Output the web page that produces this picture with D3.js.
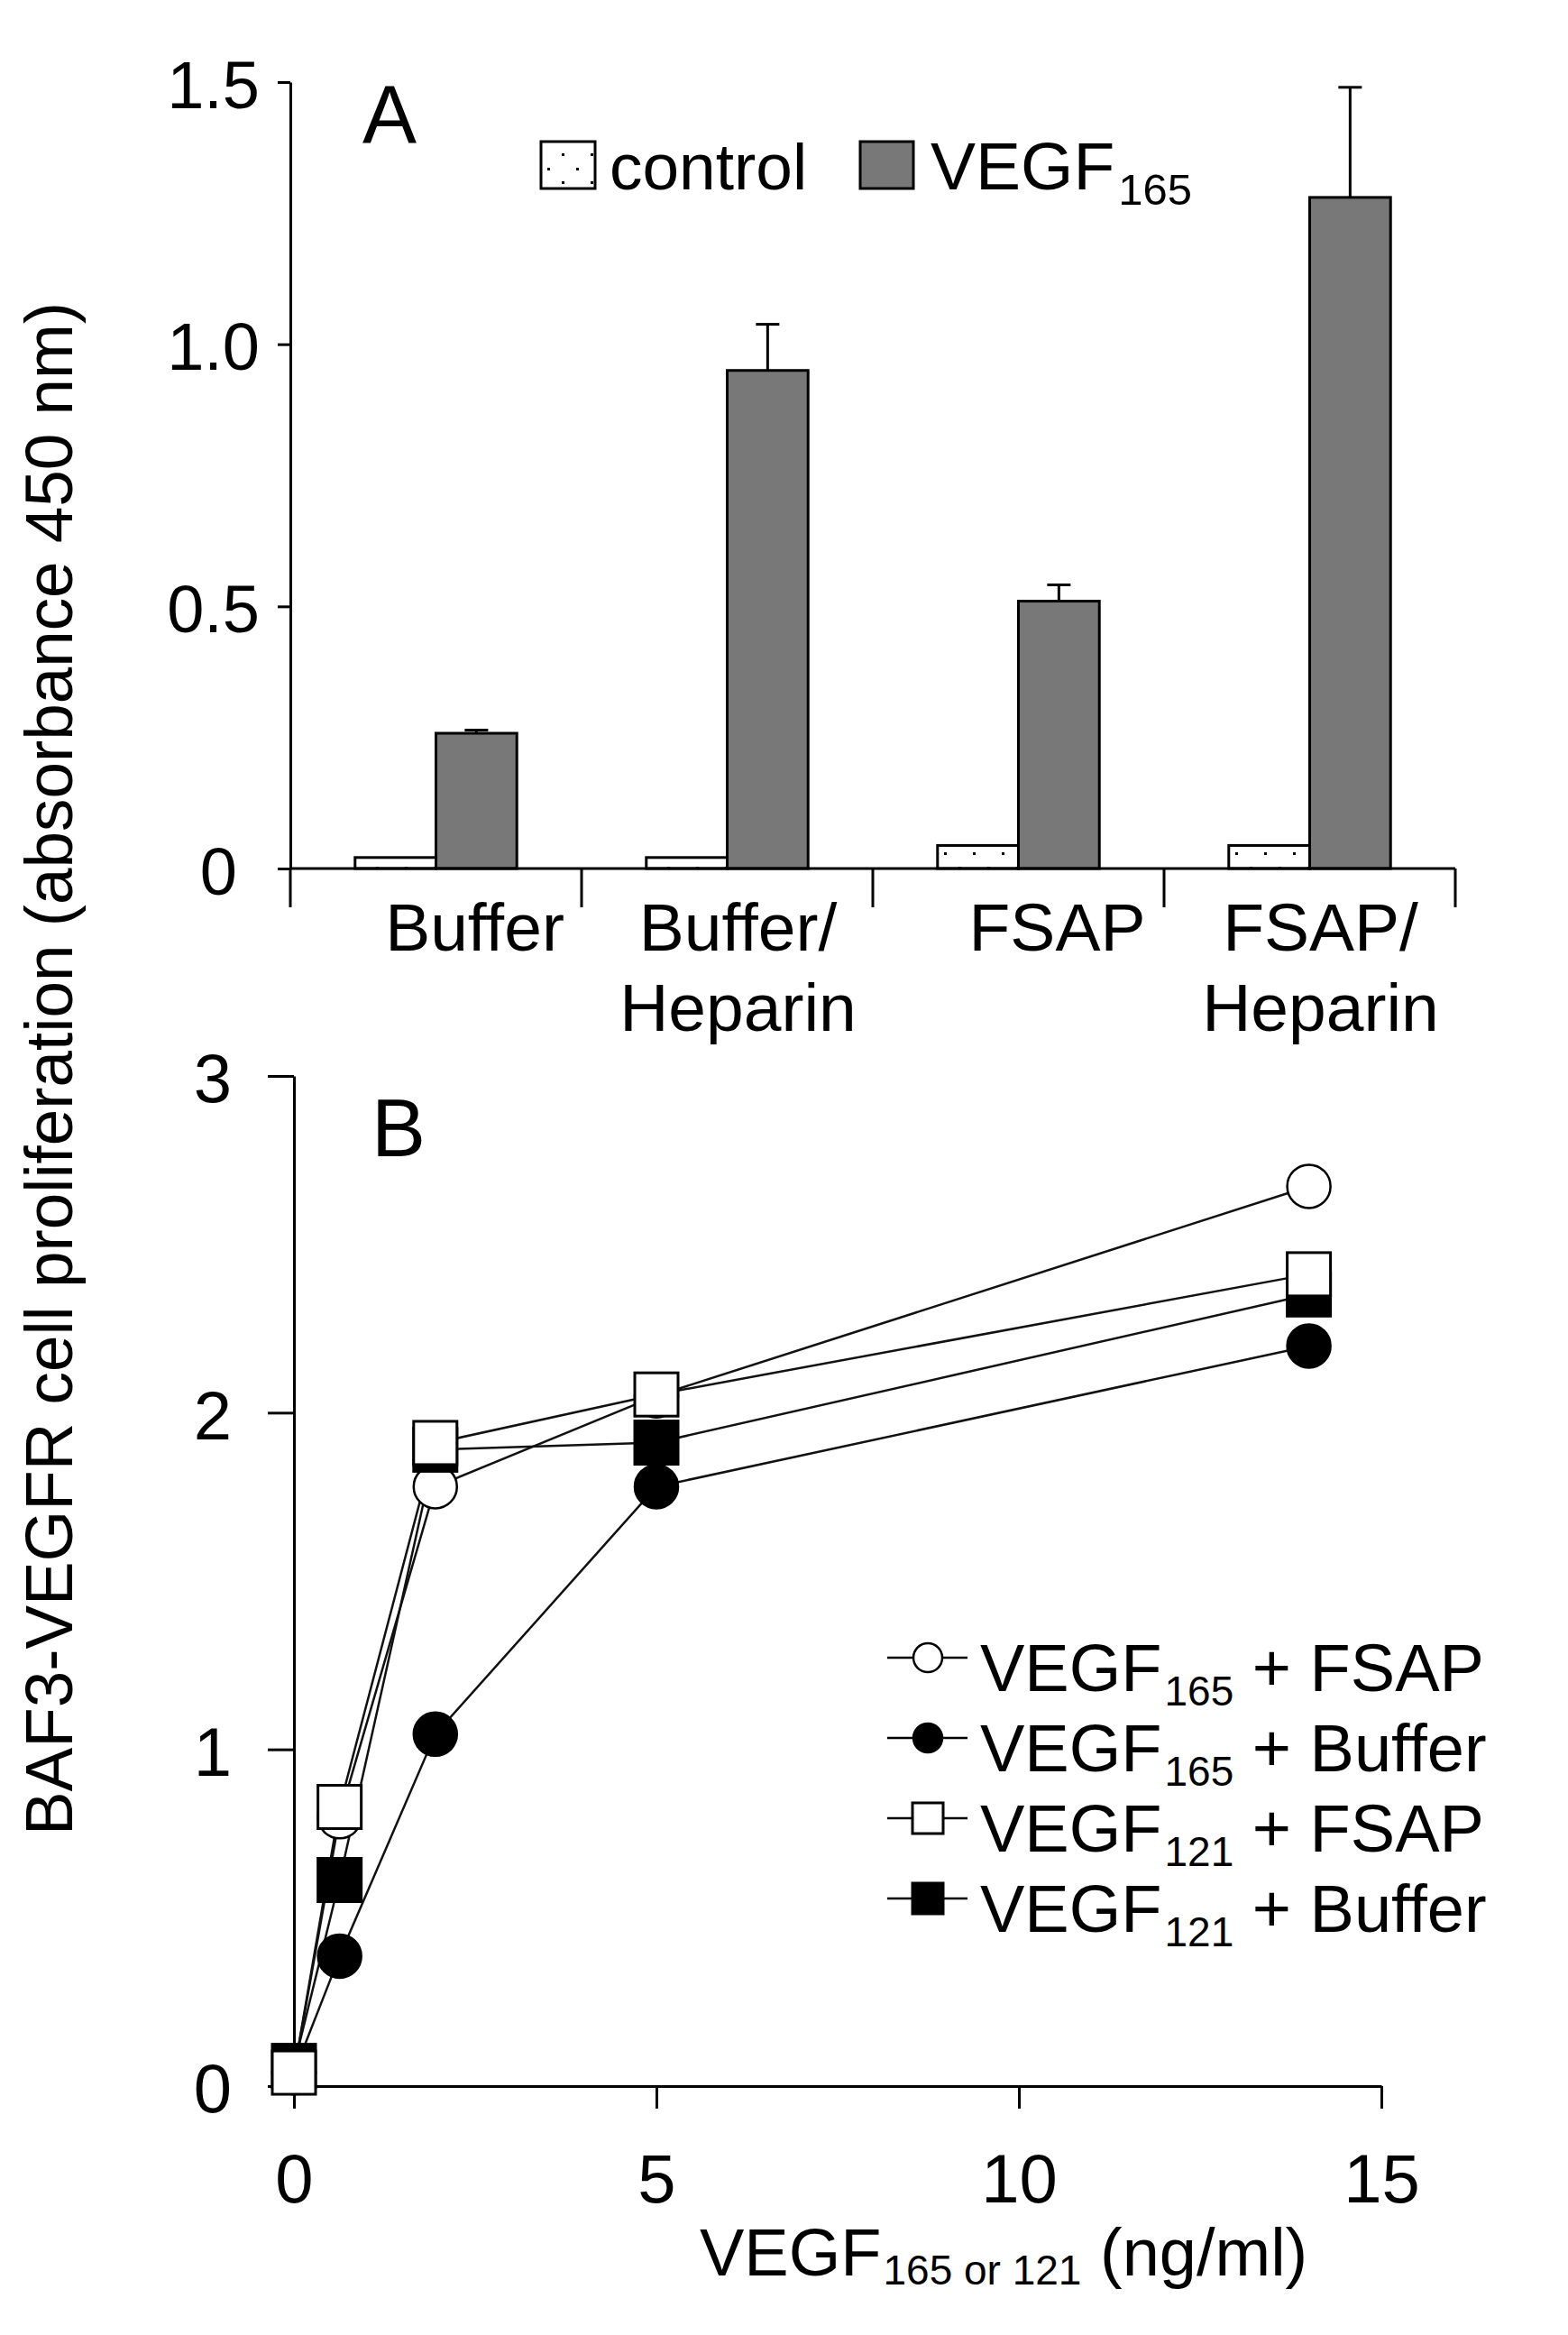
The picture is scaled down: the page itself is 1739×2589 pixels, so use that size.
<!DOCTYPE html>
<html>
<head>
<meta charset="utf-8">
<script src="https://cdn.jsdelivr.net/npm/d3@7"></script>
<style>
  body { margin: 0; background: #fff; }
  svg { display: block; font-family: "Liberation Sans", Arial, sans-serif; }
  .axis path, .axis line { stroke: #000; stroke-width: 3; }
  .axis text { fill: #000; }
</style>
</head>
<body>
<script>
const W = 1739, H = 2589;

// ---- panel A data (absorbance 450 nm) ----
const groupsA = ["Buffer", "Buffer/Heparin", "FSAP", "FSAP/Heparin"];
const seriesA = ["control", "VEGF165"];
const controlA = [0.021, 0.021, 0.044, 0.044];
const vegfA = [0.258, 0.95, 0.51, 1.28];
const vegfErrA = [0.006, 0.088, 0.031, 0.21];
const yTicksA = [0, 0.5, 1.0, 1.5];

// ---- panel B data (dose response) ----
const doseB = [0, 0.63, 1.95, 5, 14];
const seriesB = ["VEGF165 + FSAP", "VEGF165 + Buffer", "VEGF121 + FSAP", "VEGF121 + Buffer"];
const v165Fsap = [0.04, 0.8, 1.78, 2.05, 2.672];
const v165Buffer = [0.04, 0.386, 1.045, 1.78, 2.198];
const v121Fsap = [0.04, 0.829, 1.91, 2.054, 2.411];
const v121Buffer = [0.06, 0.612, 1.89, 1.911, 2.351];
const xTicksB = [0, 5, 10, 15];
const yTicksB = [0, 1, 2, 3];

const svg = d3.select("body").append("svg")
    .attr("width", W)
    .attr("height", H);

// dotted fill for the control bars
const pat = svg.append("defs").append("pattern")
    .attr("id", "dots")
    .attr("patternUnits", "userSpaceOnUse")
    .attr("width", 32).attr("height", 31);
pat.append("rect").attr("width", 32).attr("height", 31).attr("fill", "#fff");
pat.append("rect").attr("x", 15).attr("y", 15).attr("width", 3).attr("height", 3).attr("fill", "#000");
pat.append("rect").attr("x", 31).attr("y", 0).attr("width", 3).attr("height", 3).attr("fill", "#000");
pat.append("rect").attr("x", -1).attr("y", 0).attr("width", 3).attr("height", 3).attr("fill", "#000");

const barFill = {control: "url(#dots)", VEGF165: "#787878"};

// ================= PANEL A =================
const xA = d3.scaleBand().domain(groupsA).range([322, 1614]).paddingInner(0).paddingOuter(0);
const xInA = d3.scaleBand().domain(seriesA).range([0, xA.bandwidth()]).paddingInner(0).paddingOuter(0.8);
const yA = d3.scaleLinear().domain([0, 1.5]).range([963, 91]);

const rowsA = groupsA.map((g, i) => ({group: g, control: controlA[i], VEGF165: vegfA[i], err: vegfErrA[i]}));

const gA = svg.append("g");

// bars
gA.selectAll(".grp")
  .data(rowsA)
  .join("g")
    .attr("transform", d => "translate(" + xA(d.group) + ",0)")
  .selectAll("rect")
  .data(d => seriesA.map(s => ({key: s, value: d[s]})))
  .join("rect")
    .attr("x", d => xInA(d.key))
    .attr("y", d => yA(d.value))
    .attr("width", xInA.bandwidth())
    .attr("height", d => yA(0) - yA(d.value))
    .attr("fill", d => barFill[d.key])
    .attr("stroke", "#000")
    .attr("stroke-width", 3);

// error bars (upper only) on VEGF bars
const errG = gA.selectAll(".err")
  .data(rowsA)
  .join("g")
    .attr("transform", d => "translate(" + (xA(d.group) + xInA("VEGF165") + xInA.bandwidth() / 2) + ",0)");
errG.append("line")
    .attr("y1", d => yA(d.VEGF165))
    .attr("y2", d => yA(d.VEGF165 + d.err))
    .attr("stroke", "#000").attr("stroke-width", 3);
errG.append("line")
    .attr("x1", -13).attr("x2", 13)
    .attr("y1", d => yA(d.VEGF165 + d.err))
    .attr("y2", d => yA(d.VEGF165 + d.err))
    .attr("stroke", "#000").attr("stroke-width", 3);

// y axis A
const yAxisA = d3.axisLeft(yA)
    .tickValues(yTicksA)
    .tickSize(14)
    .tickSizeOuter(0)
    .tickPadding(20)
    .tickFormat(d => d === 0 ? "0" : d3.format(".1f")(d));
gA.append("g")
    .attr("class", "axis")
    .attr("transform", "translate(322,0)")
    .call(yAxisA)
    .call(g => g.selectAll("text")
        .attr("font-size", 74)
        .attr("font-family", "Liberation Sans, Arial, sans-serif")
        .attr("dy", "0.38em")
        .attr("dx", d => d === 0 ? -25 : 0));

// x axis A: base line and group dividers
gA.append("line")
    .attr("x1", 322).attr("x2", xA.range()[1])
    .attr("y1", yA(0)).attr("y2", yA(0))
    .attr("stroke", "#000").attr("stroke-width", 3);
const dividers = groupsA.map(g => xA(g)).concat([xA.range()[1]]);
gA.selectAll(".div")
  .data(dividers)
  .join("line")
    .attr("x1", d => d).attr("x2", d => d)
    .attr("y1", yA(0)).attr("y2", yA(0) + 43)
    .attr("stroke", "#000").attr("stroke-width", 3);

// group labels
gA.selectAll(".glab")
  .data(groupsA)
  .join("text")
    .attr("text-anchor", "middle")
    .attr("font-size", 75)
    .attr("y", 1054)
    .each(function(d) {
        const parts = d.includes("/") ? [d.split("/")[0] + "/", d.split("/")[1]] : [d];
        const cx = xA(d) + xA.bandwidth() / 2 + (parts.length > 1 ? 12 : 43);
        d3.select(this).selectAll("tspan")
          .data(parts)
          .join("tspan")
            .attr("x", cx)
            .attr("dy", (p, i) => i === 0 ? 0 : 89)
            .text(p => p);
    });

// panel letter
gA.append("text").attr("x", 402).attr("y", 158).attr("font-size", 90).text("A");

// legend A
const legA = gA.append("g");
legA.append("rect").attr("x", 600).attr("y", 157).attr("width", 60).attr("height", 52)
    .attr("fill", barFill.control).attr("stroke", "#000").attr("stroke-width", 3);
legA.append("text").attr("x", 676).attr("y", 210).attr("font-size", 73).text("control");
legA.append("rect").attr("x", 954).attr("y", 157).attr("width", 59).attr("height", 52)
    .attr("fill", barFill.VEGF165).attr("stroke", "#000").attr("stroke-width", 3);
const vt = legA.append("text").attr("x", 1032).attr("y", 210).attr("font-size", 75);
vt.append("tspan").text("VEGF");
vt.append("tspan").attr("font-size", 49).attr("dx", 4).attr("dy", 17).text("165");

// ================= PANEL B =================
const xB = d3.scaleLinear().domain([0, 15]).range([326, 1532]);
const yB = d3.scaleLinear().domain([0, 3]).range([2313, 1193]);

const gB = svg.append("g");

const xAxisB = d3.axisBottom(xB)
    .tickValues(xTicksB)
    .tickSize(25)
    .tickSizeOuter(0)
    .tickPadding(50)
    .tickFormat(d3.format("d"));
gB.append("g")
    .attr("class", "axis")
    .attr("transform", "translate(0," + yB(0) + ")")
    .call(xAxisB)
    .call(g => g.selectAll("text").attr("font-size", 76).attr("font-family", "Liberation Sans, Arial, sans-serif"));

const yAxisB = d3.axisLeft(yB)
    .tickValues(yTicksB)
    .tickSize(29)
    .tickSizeOuter(0)
    .tickPadding(40)
    .tickFormat(d3.format("d"));
gB.append("g")
    .attr("class", "axis")
    .attr("transform", "translate(" + xB(0) + ",0)")
    .call(yAxisB)
    .call(g => g.selectAll("text").attr("font-size", 76).attr("font-family", "Liberation Sans, Arial, sans-serif").attr("dy", "0.38em"));

// series definitions (drawing order matters for overlaps)
const styleB = [
  {name: seriesB[0], values: v165Fsap, shape: "circle", fill: "#fff"},
  {name: seriesB[1], values: v165Buffer, shape: "circle", fill: "#000"},
  {name: seriesB[3], values: v121Buffer, shape: "square", fill: "#000"},
  {name: seriesB[2], values: v121Fsap, shape: "square", fill: "#fff"}
];

const line = d3.line()
    .x((d, i) => xB(doseB[i]))
    .y(d => yB(d));

gB.selectAll(".ln")
  .data(styleB)
  .join("path")
    .attr("d", d => line(d.values))
    .attr("fill", "none")
    .attr("stroke", "#111")
    .attr("stroke-width", 2.5);

function drawMarker(sel, shape, fill, size) {
    if (shape === "circle") {
        sel.append("circle").attr("r", size / 2)
            .attr("fill", fill).attr("stroke", "#000").attr("stroke-width", 2.5);
    } else {
        sel.append("rect").attr("x", -size / 2).attr("y", -size / 2)
            .attr("width", size).attr("height", size)
            .attr("fill", fill).attr("stroke", "#000").attr("stroke-width", 3);
    }
}

styleB.forEach(s => {
    gB.selectAll(null)
      .data(s.values)
      .join("g")
        .attr("transform", (d, i) => "translate(" + xB(doseB[i]) + "," + yB(d) + ")")
        .each(function() { drawMarker(d3.select(this), s.shape, s.fill, 48); });
});

// panel letter
gB.append("text").attr("x", 412).attr("y", 1282).attr("font-size", 90).text("B");

// legend B (in original order)
const legOrder = [styleB[0], styleB[1], styleB[3], styleB[2]];
const legRowY = [1838, 1927, 2016, 2105];
const legB = gB.selectAll(".leg")
  .data(legOrder)
  .join("g")
    .attr("transform", (d, i) => "translate(0," + legRowY[i] + ")");
legB.append("line")
    .attr("x1", 984).attr("x2", 1073)
    .attr("stroke", "#000").attr("stroke-width", 2.5);
legB.each(function(d) {
    const m = d3.select(this).append("g").attr("transform", "translate(1029,0)");
    drawMarker(m, d.shape, d.fill, d.shape === "circle" ? 32 : 34);
});
legB.append("text")
    .attr("x", 1087).attr("y", 37)
    .attr("font-size", 74)
    .each(function(d) {
        const m = d.name.match(/^VEGF(\d+) (.*)$/);
        const t = d3.select(this);
        t.append("tspan").text("VEGF");
        t.append("tspan").attr("font-size", 46).attr("dx", 3).attr("dy", 16).text(m[1]);
        t.append("tspan").attr("dy", -16).text(" " + m[2]);
    });

// x axis title B
const xt = gB.append("text").attr("x", 776).attr("y", 2523).attr("font-size", 74);
xt.append("tspan").text("VEGF");
xt.append("tspan").attr("font-size", 46).attr("dx", 2).attr("dy", 10).text("165 or 121");
xt.append("tspan").attr("dy", -10).text(" (ng/ml)");

// shared y axis title
svg.append("text")
    .attr("transform", "translate(80,1185) rotate(-90)")
    .attr("text-anchor", "middle")
    .attr("font-size", 74)
    .attr("textLength", 1700)
    .attr("lengthAdjust", "spacingAndGlyphs")
    .text("BAF3-VEGFR cell proliferation (absorbance 450 nm)");
</script>
</body>
</html>
